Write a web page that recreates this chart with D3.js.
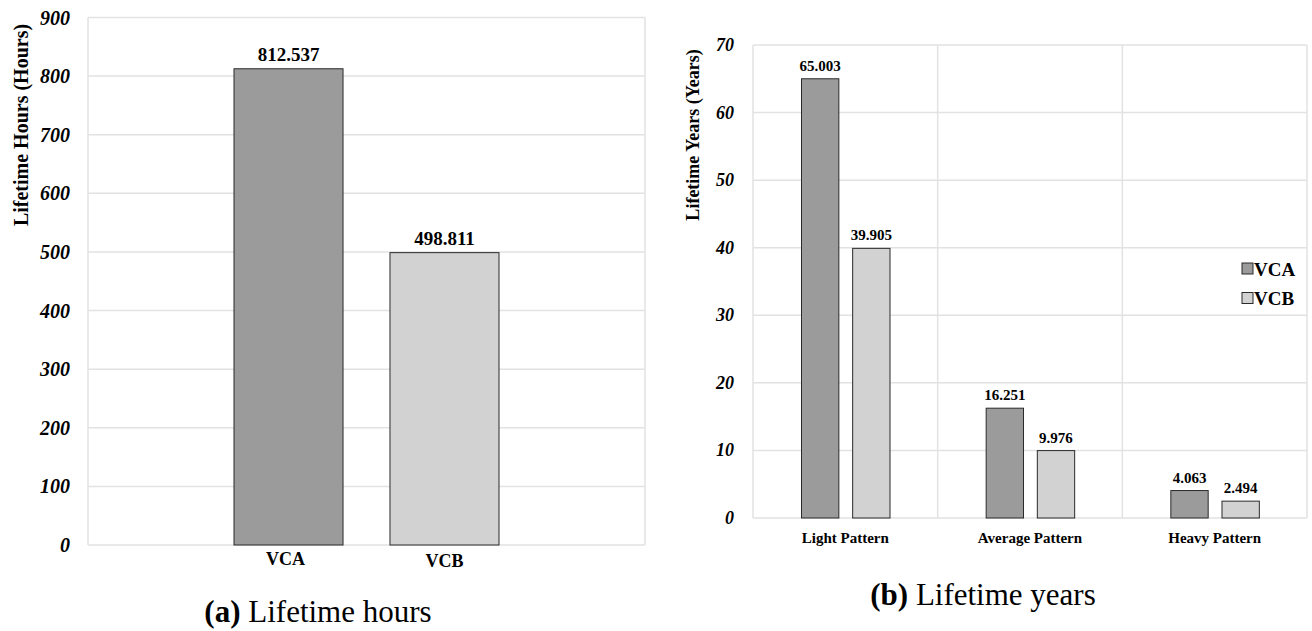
<!DOCTYPE html>
<html>
<head>
<meta charset="utf-8">
<script src="https://cdn.jsdelivr.net/npm/d3@7"></script>
<style>
	body { margin: 0; background: #fff; }
	svg { display: block; }
</style>
</head>
<body>
<svg width="1312" height="631"></svg>
<script>
// (a) lifetime hours
const hourCategories = ['VCA', 'VCB'];
const hourValues = [812.537, 498.811];
const hourTicks = [0, 100, 200, 300, 400, 500, 600, 700, 800, 900];

// (b) lifetime years
const patterns = ['Light Pattern', 'Average Pattern', 'Heavy Pattern'];
const series = ['VCA', 'VCB'];
const vcaYears = [65.003, 16.251, 4.063];
const vcbYears = [39.905, 9.976, 2.494];
const yearTicks = [0, 10, 20, 30, 40, 50, 60, 70];

const colors = {VCA: '#9b9b9b', VCB: '#d1d2d1'};
const gridColor = '#e2e2e2';
const serif = 'Liberation Serif';

const svg = d3.select('svg').attr('font-family', serif);

// ---------- left chart ----------
const left = {x0: 88, x1: 645, y0: 17.5, y1: 545};

const xa = d3.scaleBand()
	.domain(hourCategories)
	.range([left.x0, left.x1])
	.paddingInner(0.301)
	.paddingOuter(0.936);

const ya = d3.scaleLinear().domain([0, 900]).range([left.y1, left.y0]);

let ga = svg.append('g');

ga.append('g')
	.selectAll('line')
	.data(hourTicks)
	.enter().append('line')
	.attr('x1', left.x0).attr('x2', left.x1)
	.attr('y1', d => ya(d)).attr('y2', d => ya(d))
	.attr('stroke', gridColor).attr('stroke-width', 1.5);

ga.append('g')
	.selectAll('line')
	.data([left.x0, left.x1])
	.enter().append('line')
	.attr('x1', d => d).attr('x2', d => d)
	.attr('y1', left.y0).attr('y2', left.y1)
	.attr('stroke', gridColor).attr('stroke-width', 1.5);

ga.append('g')
	.selectAll('text')
	.data(hourTicks)
	.enter().append('text')
	.attr('x', 70).attr('y', d => ya(d) + 7)
	.attr('text-anchor', 'end')
	.attr('font-size', 20).attr('font-weight', 'bold').attr('font-style', 'italic')
	.text(d => d);

ga.append('g')
	.selectAll('rect')
	.data(hourCategories)
	.enter().append('rect')
	.attr('x', d => xa(d))
	.attr('width', xa.bandwidth())
	.attr('y', (d, i) => ya(hourValues[i]))
	.attr('height', (d, i) => ya(0) - ya(hourValues[i]))
	.attr('fill', d => colors[d])
	.attr('stroke', '#2a2a2a').attr('stroke-width', 1);

ga.append('g')
	.selectAll('text')
	.data(hourCategories)
	.enter().append('text')
	.attr('x', d => xa(d) + xa.bandwidth() / 2)
	.attr('y', (d, i) => ya(hourValues[i]) - 8)
	.attr('text-anchor', 'middle')
	.attr('font-size', 19).attr('font-weight', 'bold')
	.text((d, i) => hourValues[i].toFixed(3));

ga.append('g')
	.selectAll('text')
	.data(hourCategories)
	.enter().append('text')
	.attr('x', d => xa(d) + xa.bandwidth() / 2 - 3 + (d === 'VCB' ? 3 : 0))
	.attr('y', (d, i) => 565 + i * 2)
	.attr('text-anchor', 'middle')
	.attr('font-size', 18).attr('font-weight', 'bold')
	.text(d => d);

ga.append('text')
	.attr('transform', 'translate(28,125) rotate(-90)')
	.attr('text-anchor', 'middle')
	.attr('font-size', 20).attr('font-weight', 'bold')
	.text('Lifetime Hours (Hours)');

let capA = ga.append('text')
	.attr('x', 318).attr('y', 622)
	.attr('text-anchor', 'middle')
	.attr('font-size', 31);
capA.append('tspan').attr('font-weight', 'bold').text('(a)');
capA.append('tspan').text(' Lifetime hours');

// ---------- right chart ----------
const right = {x0: 753, x1: 1307, y0: 45, y1: 518};

const x0 = d3.scaleBand().domain(patterns).range([right.x0, right.x1]);
const x1 = d3.scaleBand()
	.domain(series)
	.range([48.5, 137])
	.paddingInner(0.27);
const yb = d3.scaleLinear().domain([0, 70]).range([right.y1, right.y0]);

let gb = svg.append('g');

gb.append('g')
	.selectAll('line')
	.data(yearTicks)
	.enter().append('line')
	.attr('x1', right.x0).attr('x2', right.x1)
	.attr('y1', d => yb(d)).attr('y2', d => yb(d))
	.attr('stroke', gridColor).attr('stroke-width', 1.5);

gb.append('g')
	.selectAll('line')
	.data(d3.range(patterns.length + 1))
	.enter().append('line')
	.attr('x1', i => right.x0 + i * x0.step())
	.attr('x2', i => right.x0 + i * x0.step())
	.attr('y1', right.y0).attr('y2', right.y1)
	.attr('stroke', gridColor).attr('stroke-width', 1.5);

gb.append('g')
	.selectAll('text')
	.data(yearTicks)
	.enter().append('text')
	.attr('x', 734).attr('y', d => yb(d) + 6)
	.attr('text-anchor', 'end')
	.attr('font-size', 18).attr('font-weight', 'bold').attr('font-style', 'italic')
	.text(d => d);

let rows = patterns.map((p, i) => ({pattern: p, values: [
	{key: 'VCA', value: vcaYears[i]},
	{key: 'VCB', value: vcbYears[i]}
]}));

let group = gb.append('g')
	.selectAll('g')
	.data(rows)
	.enter().append('g')
	.attr('transform', d => 'translate(' + x0(d.pattern) + ',0)');

group.selectAll('rect')
	.data(d => d.values)
	.enter().append('rect')
	.attr('x', d => x1(d.key))
	.attr('width', x1.bandwidth())
	.attr('y', d => yb(d.value))
	.attr('height', d => yb(0) - yb(d.value))
	.attr('fill', d => colors[d.key])
	.attr('stroke', '#2a2a2a').attr('stroke-width', 1);

group.selectAll('text')
	.data(d => d.values)
	.enter().append('text')
	.attr('x', d => x1(d.key) + x1.bandwidth() / 2)
	.attr('y', d => yb(d.value) - 8)
	.attr('text-anchor', 'middle')
	.attr('font-size', 15).attr('font-weight', 'bold')
	.text(d => d.value.toFixed(3));

gb.append('g')
	.selectAll('text')
	.data(patterns)
	.enter().append('text')
	.attr('x', d => x0(d) + x0.bandwidth() / 2)
	.attr('y', 543)
	.attr('text-anchor', 'middle')
	.attr('font-size', 15).attr('font-weight', 'bold')
	.text(d => d);

gb.append('text')
	.attr('transform', 'translate(699,135) rotate(-90)')
	.attr('text-anchor', 'middle')
	.attr('font-size', 18).attr('font-weight', 'bold')
	.text('Lifetime Years (Years)');

let legend = gb.append('g')
	.selectAll('g')
	.data(series)
	.enter().append('g')
	.attr('transform', (d, i) => 'translate(1242,' + (263 + i * 29.5) + ')');
legend.append('rect')
	.attr('width', 11).attr('height', 11)
	.attr('fill', d => colors[d])
	.attr('stroke', '#2a2a2a').attr('stroke-width', 1);
legend.append('text')
	.attr('x', 12).attr('y', 12.5)
	.attr('font-size', 19).attr('font-weight', 'bold')
	.text(d => d);

let capB = gb.append('text')
	.attr('x', 983).attr('y', 605)
	.attr('text-anchor', 'middle')
	.attr('font-size', 31);
capB.append('tspan').attr('font-weight', 'bold').text('(b)');
capB.append('tspan').text(' Lifetime years');
</script>
</body>
</html>
